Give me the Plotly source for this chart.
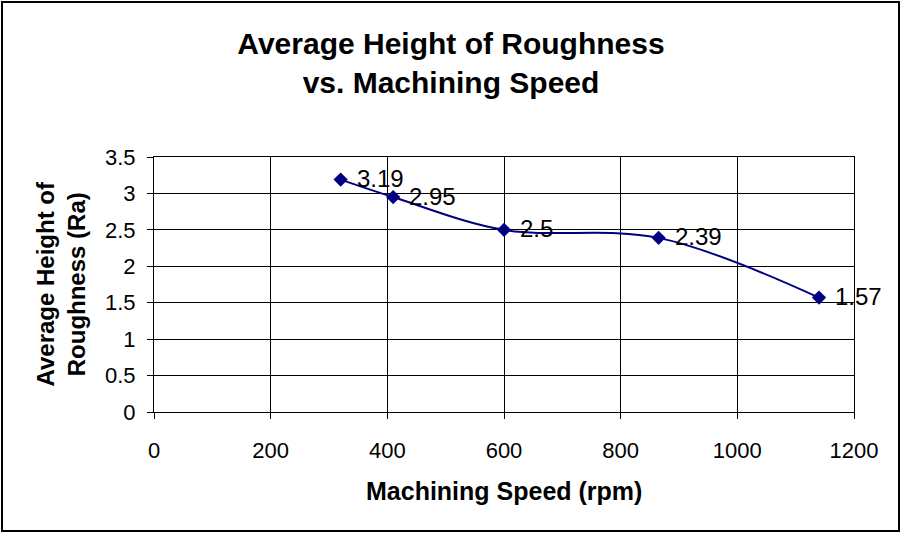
import plotly.graph_objects as go

speed_rpm = [320, 410, 600, 865, 1140]
roughness_ra = [3.19, 2.95, 2.5, 2.39, 1.57]
x_ticks = [0, 200, 400, 600, 800, 1000, 1200]
y_ticks = [0, 0.5, 1, 1.5, 2, 2.5, 3, 3.5]

FONT = "Liberation Sans, Arial, sans-serif"

fig = go.Figure()
fig.add_trace(go.Scatter(
    x=speed_rpm, y=roughness_ra, mode="lines+markers",
    line=dict(color="#000080", width=2, shape="spline", smoothing=1),
    marker=dict(symbol="diamond", size=11, color="#000080"),
    showlegend=False, hoverinfo="x+y",
))

annotations = []
for xv, yv in zip(speed_rpm, roughness_ra):
    annotations.append(dict(
        x=xv, y=yv, xref="x", yref="y", text=f"{yv:g}", showarrow=False,
        xanchor="left", yanchor="middle", xshift=14, yshift=1,
        font=dict(family=FONT, size=24, color="black"),
    ))

annotations.append(dict(
    text="<b>Machining Speed (rpm)</b>", xref="paper", yref="paper",
    x=0.5, y=(412 - 491) / 255, xanchor="center", yanchor="middle",
    showarrow=False, font=dict(family=FONT, size=25, color="black"),
))
annotations.append(dict(
    text="<b>Average Height of<br>Roughness (Ra)</b>", xref="paper", yref="paper",
    x=(60 - 154) / 700, y=0.5, xanchor="center", yanchor="middle",
    textangle=-90, showarrow=False,
    font=dict(family=FONT, size=24, color="black"),
))

fig.update_layout(
    width=902, height=533,
    margin=dict(l=154, r=48, t=157, b=121),
    paper_bgcolor="white", plot_bgcolor="white",
    title=dict(
        text="<b>Average Height of Roughness<br>vs. Machining Speed</b>",
        x=0.5, xref="container", xanchor="center",
        y=1 - 54 / 533, yref="container", yanchor="middle",
        font=dict(family=FONT, size=30, color="black"),
    ),
    annotations=annotations,
    shapes=[dict(
        type="rect", xref="paper", yref="paper",
        x0=(2 - 154) / 700, x1=(899 - 154) / 700,
        y0=(412 - 531) / 255, y1=(412 - 2) / 255,
        line=dict(color="black", width=2), fillcolor="rgba(0,0,0,0)",
        layer="below",
    )],
)

fig.update_xaxes(
    range=[0, 1200], tickvals=x_ticks, ticktext=[str(v) for v in x_ticks],
    showgrid=True, gridcolor="black", gridwidth=1,
    showline=True, linecolor="black", linewidth=1, mirror=True,
    ticks="outside", ticklen=6, tickcolor="black",
    ticklabelstandoff=13,
    tickfont=dict(family=FONT, size=22, color="black"),
    zeroline=False, fixedrange=True,
)
fig.update_yaxes(
    range=[0, 3.5], tickvals=y_ticks, ticktext=[f"{v:g}" for v in y_ticks],
    showgrid=True, gridcolor="black", gridwidth=1,
    showline=True, linecolor="black", linewidth=1, mirror=True,
    ticks="outside", ticklen=6, tickcolor="black",
    ticklabelstandoff=7,
    tickfont=dict(family=FONT, size=22, color="black"),
    zeroline=False, fixedrange=True,
)

fig.write_html("out.html")
